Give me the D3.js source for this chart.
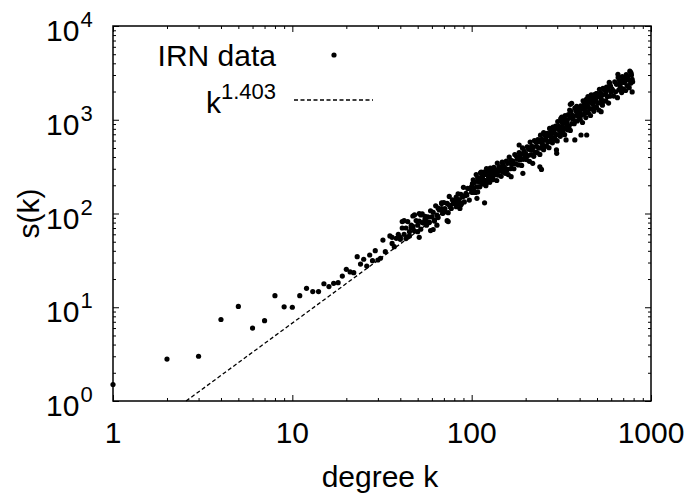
<!DOCTYPE html>
<html>
<head>
<meta charset="utf-8">
<script src="https://cdn.jsdelivr.net/npm/d3@7/dist/d3.min.js"></script>
<style>
  html, body { margin: 0; padding: 0; background: #fff; }
  svg { display: block; }
  text { font-family: "Liberation Sans", Arial, Helvetica, sans-serif; fill: #000; }
</style>
</head>
<body>
<svg id="chart" width="692" height="500"></svg>
<script>
// ---------------- data ----------------
// sparse low-degree nodes
const lowK = [1,2,3,4,5,6,7,8,9,10, 11,12,13,14,15,16,17,18,19,20, 21,22,23,24,25,26,27,28,29,30, 31,32,33,35,36,37,38];
const lowS = [1.5,2.8,3.0,7.4,10.2,6.0,7.2,13.3,10.1,10.0, 13.3,15.9,14.7,14.7,17.8,16.6,18.0,18.3,21.5,25.4, 23.8,23.4,34.6,28.9,32.5,27.5,36.1,31.4,40.1,31.9, 33.3,52,39.2,57.6,48,44.3,54.3];
// individually read nodes, k 36-137
const midK = [36,40,42,43,45,47,47,50,51,52, 53,55,56,58,59,61,62,64,65,68, 69,71,73,75,77,79,82,84,86,89, 91,94,97,100,103,107,110,113,118,120, 126,131,137,108,87];
const midS = [55.7,55.7,83.8,54,57.6,69.5,94,64,55.7,96.5, 80,85,75,80,65.7,67.5,85,75,90.5,130, 100.5,104.6,83.8,123,113,128,118,133,113,150, 133,158,139,170,213,145,193,277,130,206, 217,247,279,170,123];
// individually read band-edge / outlier nodes
const edgeK = [41,48,51,56,68,74,82,93,101,131, 149,166,170,186,184,193,213,219,240,249, 245,290,298,317,324,336,352,361,376,445, 438,355,385,318,252,297,157,407,771,654, 790,785,698,588,562,495,527];
const edgeS = [82,96.5,100,82,128,82,150,164,208,268, 329,247,343,403,538,268,476,343,315,515, 295,634,438,1036,778,610,1270,1497,610,1762, 688,1462,1390,1070,728,476,290,688,3206,3050, 2542,1980,2660,2450,1980,1900,1220];
// dense band, k 39-98
const bandAK = [39,40,41,42,43,44,44,45,46,46, 47,48,49,50,51,52,53,54,55,55, 57,58,59,60,61,62,63,64,65,66, 68,69,70,71,73,74,75,76,78,80, 81,83,84,85,87,88,90,92,95,98];
const bandAS = [60,53,70,60,70,56,82,64,75,71, 73,65,84,75,83,68,99,79,93,88, 92,81,107,92,103,83,121,96,114,109, 113,101,131,113,128,102,152,120,140,137, 139,125,162,141,160,128,190,155,185,186];
// dense band, k 100-198
const bandBK = [100,101,102,103,104,105,106,107,108,109,110,111,112,113,114,
  115,116,117,118,119,120,121,122,123,124,125,126,127,128,129,
  130,132,133,135,136,138,139,140,142,143,145,146,148,149,150,
  152,154,156,157,159,160,162,164,165,167,170,172,174,176,178,
  180,182,184,186,188,190,192,194,196,198];
const bandBS = [194,168,229,188,218,168,260,193,241,219,235,193,272,216,255,
  238,206,276,226,261,198,302,225,276,247,264,216,305,241,284,
  265,230,311,259,293,225,345,257,316,283,303,249,353,278,328,
  308,268,362,298,344,260,400,300,372,334,362,300,425,339,405,
  379,330,447,372,429,326,500,378,462,415];
// dense band, k 200-397
const bandCK = [200,202,204,206,208,210,212,214,216,218,
  220,222,224,226,228,230,232,234,236,238,240,242,244,246,248,
  250,252,254,256,258,260,262,264,266,268,270,272,274,276,278,
  280,282,284,286,288,290,292,294,296,298,300,302,304,306,308,
  310,312,314,316,318,320,322,324,326,328,330,332,334,336,338,
  340,343,346,349,352,355,358,361,364,367,370,373,376,379,382,
  385,388,391,394,397];
const bandCS = [435,376,514,415,486,360,578,423,523,474,
  512,407,600,451,578,520,445,615,500,581,427,685,500,618,551,
  601,479,709,525,672,610,522,716,579,677,503,808,592,736,650,
  711,567,835,622,795,722,619,853,691,810,594,955,695,849,777,
  837,665,1030,743,944,849,727,995,815,937,693,1110,810,1005,896,
  965,780,1135,848,1045,770,1230,910,1115,1020,1097,906,1330,970,1240,
  1120,970,1335,1080,1270];
// dense band, k 400-600
const bandDK = [400,403,406,409,412,415,418,421,424,427,430,433,436,439,442,
  445,448,451,454,457,460,464,467,470,474,477,480,484,487,490,
  494,497,500,504,508,512,516,520,524,528,532,536,540,545,550,
  555,560,565,570,575,580,585,590,595,600];
const bandDS = [1195,1012,1410,1115,1315,935,1595,1145,1450,1250,1365,1055,1650,1197,1560,
  1395,1180,1655,1310,1545,1110,1840,1310,1680,1460,1590,1230,1860,1355,1775,
  1595,1355,1895,1500,1770,1270,2110,1520,1920,1660,1820,1430,2160,1580,2080,
  1865,1588,2230,1770,2120,1505,2500,1780,2280,1970];
// dense band, k 610-785
const bandEK = [610,620,628,635,642,650,656,662,668,674,680,686,692,698,704,710,716,722,728,735,742,750,756,762,770,778,785];
const bandES = [2090,1790,2540,1990,2390,1720,2830,2080,2610,2260,2480,1950,2880,2140,2760,2500,2600,2050,3030,2310,2880,2650,2200,3300,2450,3000,2700];

// fitted power law s = A * k^1.403
const fitExponent = 1.403;
const fitPrefactor = 0.268;
const fitKMax = 800;

// axes
const xDomain = [1, 1000];
const yDomain = [1, 10000];
const xTickLabels = ["1", "10", "100", "1000"];
const yTickExponents = ["0", "1", "2", "3", "4"];
const xTitle = "degree k";
const yTitle = "s(k)";
const legendData = "IRN data";
const legendFitBase = "k";
const legendFitExp = "1.403";

// ---------------- build ----------------
const kAll = [].concat(lowK, midK, edgeK, bandAK, bandBK, bandCK, bandDK, bandEK);
const sAll = [].concat(lowS, midS, edgeS, bandAS, bandBS, bandCS, bandDS, bandES);
const points = kAll.map((k, i) => ({ k: k, s: sAll[i] })).filter(d => d.s !== undefined);

const L = 113, R = 651, T = 26, B = 401;
const FS = 30, SUP = 22;
const svg = d3.select("#chart");
const x = d3.scaleLog().domain(xDomain).range([L, R]);
const y = d3.scaleLog().domain(yDomain).range([B, T]);

const xAllTicks = x.ticks();
const yAllTicks = y.ticks();
const isMajor = v => Math.abs(Math.log10(v) - Math.round(Math.log10(v))) < 1e-9;
const xMajor = xAllTicks.filter(isMajor), xMinor = xAllTicks.filter(v => !isMajor(v));
const yMajor = yAllTicks.filter(isMajor), yMinor = yAllTicks.filter(v => !isMajor(v));

function tickLayer(axisFn, scale, vals, size, transform) {
  const g = svg.append("g").attr("transform", transform)
    .call(axisFn(scale).tickValues(vals).tickSize(-size).tickFormat(""));
  g.select(".domain").remove();
  g.selectAll("line").attr("stroke", "#000").attr("stroke-width", 1);
}
tickLayer(d3.axisBottom, x, xMinor, 3, `translate(0,${B})`);
tickLayer(d3.axisBottom, x, xMajor, 6, `translate(0,${B})`);
tickLayer(d3.axisTop, x, xMinor, 3, `translate(0,${T})`);
tickLayer(d3.axisTop, x, xMajor, 6, `translate(0,${T})`);
tickLayer(d3.axisLeft, y, yMinor, 3, `translate(${L},0)`);
tickLayer(d3.axisLeft, y, yMajor, 6, `translate(${L},0)`);
tickLayer(d3.axisRight, y, yMinor, 3, `translate(${R},0)`);
tickLayer(d3.axisRight, y, yMajor, 6, `translate(${R},0)`);

// fit line
const kStart = Math.pow(1 / fitPrefactor, 1 / fitExponent);
const fitLine = [kStart, fitKMax].map(k => ({ k: k, s: fitPrefactor * Math.pow(k, fitExponent) }));
svg.append("path")
  .datum(fitLine)
  .attr("d", d3.line().x(d => x(d.k)).y(d => y(d.s)))
  .attr("fill", "none").attr("stroke", "#000")
  .attr("stroke-width", 1.3).attr("stroke-dasharray", "4,2.5");

// data points
svg.append("g").selectAll("circle").data(points).join("circle")
  .attr("cx", d => x(d.k)).attr("cy", d => y(d.s)).attr("r", 2.6).attr("fill", "#000");

// frame
svg.append("rect").attr("x", L).attr("y", T).attr("width", R - L).attr("height", B - T)
  .attr("fill", "none").attr("stroke", "#000").attr("stroke-width", 1.5);

// x tick labels
svg.append("g").selectAll("text").data(xMajor).join("text")
  .attr("x", d => x(d)).attr("y", 443).attr("text-anchor", "middle")
  .attr("font-size", FS).text((d, i) => xTickLabels[i]);

// y tick labels 10^n
const yl = svg.append("g").selectAll("text").data(yMajor).join("text")
  .attr("x", 46).attr("y", d => y(d) + 15).attr("text-anchor", "start").attr("font-size", FS);
yl.append("tspan").text("10");
yl.append("tspan").attr("dx", 1).attr("dy", -14).attr("font-size", SUP).text((d, i) => yTickExponents[i]);

// axis titles
svg.append("text").attr("x", (L + R) / 2 - 2).attr("y", 487).attr("text-anchor", "middle")
  .attr("font-size", FS).text(xTitle);
svg.append("text").attr("transform", `translate(39,${(T + B) / 2}) rotate(-90)`)
  .attr("text-anchor", "middle").attr("font-size", FS).text(yTitle);

// legend
svg.append("text").attr("x", 276).attr("y", 66).attr("text-anchor", "end")
  .attr("font-size", FS).text(legendData);
svg.append("circle").attr("cx", 334).attr("cy", 55).attr("r", 2.6).attr("fill", "#000");
const lf = svg.append("text").attr("x", 276).attr("y", 113).attr("text-anchor", "end").attr("font-size", FS);
lf.append("tspan").text(legendFitBase);
lf.append("tspan").attr("dy", -14).attr("font-size", SUP).text(legendFitExp);
svg.append("line").attr("x1", 294).attr("x2", 373).attr("y1", 100).attr("y2", 100)
  .attr("stroke", "#000").attr("stroke-width", 1.3).attr("stroke-dasharray", "4,2.5");
</script>
</body>
</html>
